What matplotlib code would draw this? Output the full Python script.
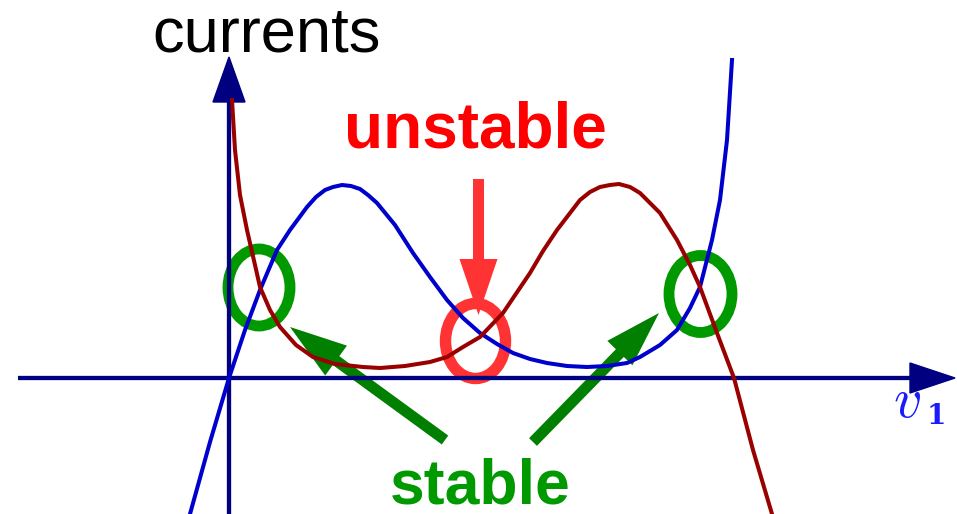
import numpy as np
import matplotlib
matplotlib.use('Agg')
import matplotlib.pyplot as plt
from matplotlib.patches import Ellipse, FancyArrow, Polygon

##################################################
# Data (v1 on x, current on y; origin where the axes cross)
##################################################
blue_v = [-0.39, -0.19, 0.00, 0.16, 0.31, 0.48, 0.61, 0.78, 0.87, 0.96,
          1.04, 1.13, 1.22, 1.31, 1.39, 1.48, 1.66, 1.84, 2.01, 2.18,
          2.34, 2.51, 2.68, 2.84, 3.01, 3.18, 3.38, 3.58, 3.78, 3.98,
          4.11, 4.31, 4.48, 4.61, 4.71, 4.83, 4.91, 4.98, 5.03]
blue_i = [-1.36, -0.64, 0.00, 0.48, 0.88, 1.28, 1.48, 1.71, 1.81, 1.88,
          1.91, 1.93, 1.92, 1.89, 1.83, 1.75, 1.53, 1.25, 1.01, 0.78,
          0.60, 0.45, 0.34, 0.25, 0.19, 0.15, 0.12, 0.11, 0.12, 0.15,
          0.21, 0.33, 0.48, 0.70, 0.91, 1.38, 1.78, 2.38, 3.18]

red_v = [0.03, 0.06, 0.11, 0.18, 0.26, 0.31, 0.41, 0.51, 0.67, 0.84,
         1.06, 1.34, 1.51, 1.76, 2.01, 2.18, 2.34, 2.51, 2.74, 3.01,
         3.14, 3.28, 3.51, 3.61, 3.71, 3.81, 3.90, 4.01, 4.11, 4.31,
         4.48, 4.61, 4.71, 4.88, 5.05, 5.24, 5.43]
red_i = [2.78, 2.28, 1.83, 1.48, 1.13, 0.91, 0.68, 0.51, 0.33, 0.21,
         0.14, 0.11, 0.10, 0.12, 0.16, 0.21, 0.31, 0.41, 0.65, 1.05,
         1.27, 1.48, 1.78, 1.86, 1.91, 1.93, 1.94, 1.91, 1.85, 1.65,
         1.38, 1.13, 0.91, 0.45, 0.00, -0.72, -1.36]

# operating points (crossings of the two curves)
stable_pts = [(0.30, 0.905), (4.715, 0.84)]
unstable_pt = (2.465, 0.37)

##################################################
# Plot
##################################################
plt.rcParams['mathtext.fontset'] = 'cm'
fig = plt.figure(figsize=(9.57, 5.14), dpi=100)
ax = fig.add_axes([0, 0, 1, 1])
ax.set_xlim(-2.29, 7.28)
ax.set_ylim(-1.36, 3.78)
ax.axis('off')

navy = '#000080'
# axes with arrow heads
ax.plot([-2.11, 6.82], [0, 0], color=navy, lw=3.1, solid_capstyle='butt')
ax.add_patch(Polygon([[6.81, 0.15], [6.81, -0.15], [7.26, 0]], color=navy))
ax.plot([0, 0], [-1.36, 2.77], color=navy, lw=3.1, solid_capstyle='butt')
ax.add_patch(Polygon([[-0.16, 2.76], [0.16, 2.76], [0, 3.21]], color=navy))

# the two current curves
ax.plot(blue_v, blue_i, color='#0000cc', lw=2.9, solid_joinstyle='round')
ax.plot(red_v, red_i, color='#990000', lw=2.9, solid_joinstyle='round')

# circles round the operating points
for (x, y), w in zip(stable_pts, [0.62, 0.63]):
    ax.add_patch(Ellipse((x, y), w, 0.77, fill=False, ec='#009900', lw=7.8))
ax.add_patch(Ellipse(unstable_pt, 0.60, 0.75, fill=False, ec='#ff3333', lw=8.2))

# arrows
ax.add_patch(FancyArrow(2.495, 1.99, 0, -1.36, width=0.11, head_width=0.38,
                        head_length=0.56, length_includes_head=True,
                        color='#ff3333', lw=0))
ax.add_patch(FancyArrow(2.16, -0.62, 0.61 - 2.16, 0.51 + 0.62, width=0.11,
                        head_width=0.37, head_length=0.57, length_includes_head=True,
                        color='#007f00', lw=0))
ax.add_patch(FancyArrow(3.04, -0.64, 4.30 - 3.04, 0.65 + 0.64, width=0.11,
                        head_width=0.35, head_length=0.56, length_includes_head=True,
                        color='#007f00', lw=0))

# labels
ax.text(0.38, 3.26, 'currents', fontsize=45.5, family='Liberation Sans',
        ha='center', va='baseline', color='black')
ax.text(2.46, 2.31, 'unstable', fontsize=46, family='Liberation Sans',
        weight='bold', ha='center', va='baseline', color='#ff0000')
ax.text(2.51, -1.25, 'stable', fontsize=45, family='Liberation Sans',
        weight='bold', ha='center', va='baseline', color='#009900')
ax.text(6.64, -0.39, r'$v$', fontsize=40, ha='left', va='baseline',
        color='#1a1aff')
ax.text(6.975, -0.46, '1', fontsize=20, family='DejaVu Serif', weight='bold',
        ha='left', va='baseline', color='#1a1aff')

fig.savefig('out.png', dpi=100)
